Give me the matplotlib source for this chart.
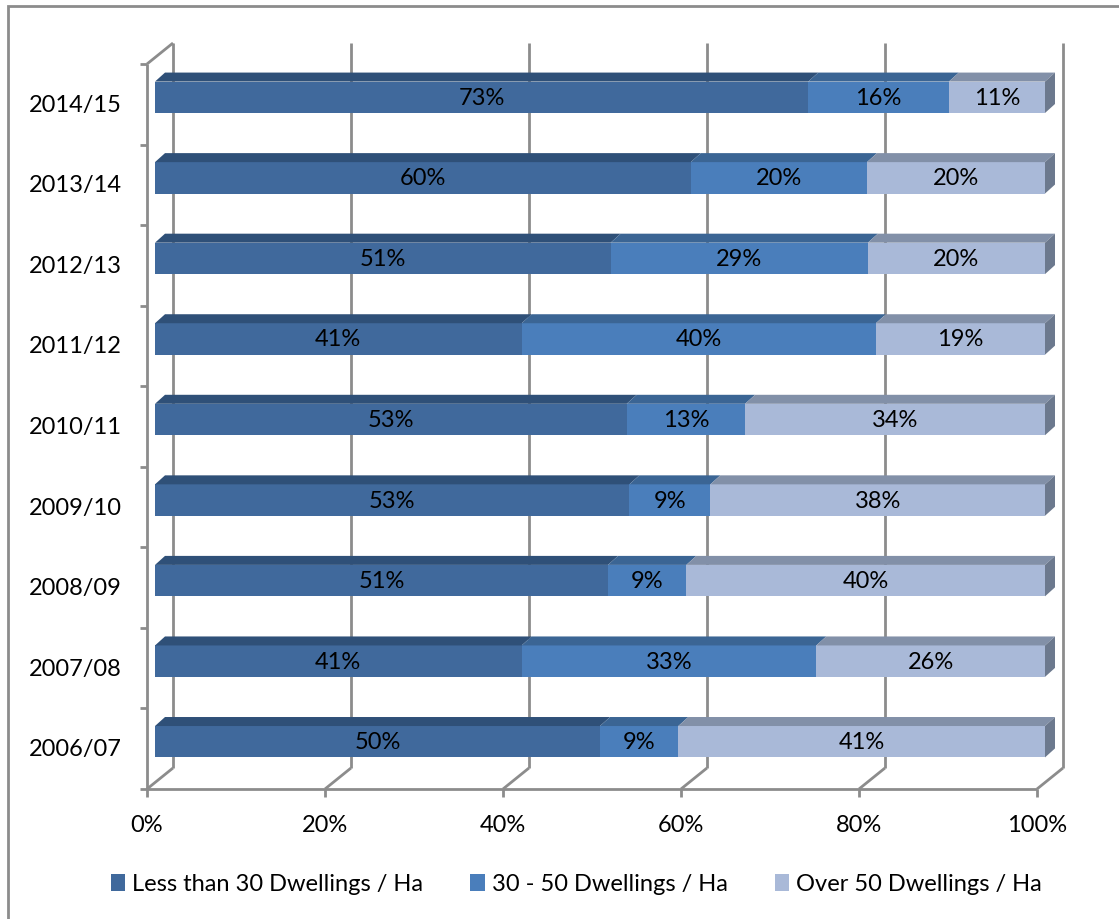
import matplotlib
matplotlib.use('Agg')
import matplotlib.pyplot as plt
from matplotlib.patches import Polygon, Rectangle, Patch

plt.rcParams['font.family'] = ['Lato', 'DejaVu Sans']

# Veriler
years = ['2006/07', '2007/08', '2008/09', '2009/10', '2010/11',
         '2011/12', '2012/13', '2013/14', '2014/15']
less_30 = [50.0, 41.2, 50.9, 53.3, 53.0, 41.2, 51.2, 60.2, 73.4]
mid_30_50 = [8.8, 33.1, 8.8, 9.1, 13.3, 39.8, 28.9, 19.8, 15.8]
over_50 = [41.2, 25.7, 40.3, 37.6, 33.7, 19.0, 19.9, 20.0, 10.8]
series_names = ['Less than 30 Dwellings / Ha', '30 - 50 Dwellings / Ha',
                'Over 50 Dwellings / Ha']
xticks = [0, 20, 40, 60, 80, 100]

front_cols = ['#40699C', '#4A7EBB', '#A9B9D8']
top_cols = ['#2F5078', '#3B6594', '#8290A8']
side_col = '#6C798E'
grid_col = '#8C8C8C'

fig = plt.figure(figsize=(11.19, 9.2), dpi=100)
W, H = 1119, 920
# eksen: bar on yuzu duzlemi (x: 155..1045 px, y: 783..58 px)
ax = fig.add_axes([155 / W, (H - 783) / H, 890 / W, 725 / H])
ax.set_xlim(0, 100)
ax.set_ylim(0, 9)
ax.axis('off')

px_x = 100 / 890.0
px_y = 9 / 725.0
# derinlik kaydirmalari (piksel -> veri)
bdx, bdy = 10 * px_x, 9 * px_y       # bar derinligi
wdx, wdy = 18 * px_x, 14 * px_y      # arka duvar
fdx, fdy = -8 * px_x, -7 * px_y      # on eksen duzlemi

def line(xs, ys, **kw):
    ax.plot(xs, ys, color=grid_col, lw=2, clip_on=False, solid_capstyle='butt', **kw)

# arka duvar cizgileri ve zemin
for v in xticks:
    line([v + wdx, v + wdx], [wdy, 9 + wdy], zorder=1)
    line([v + fdx, v + wdx], [fdy, wdy], zorder=1)
    line([v + fdx, v + fdx], [fdy, fdy - 8 * px_y], zorder=1)
    ax.text(v + fdx, fdy - 36 * px_y, f'{v}%', ha='center', va='center', fontsize=17)
# sol duvar
line([fdx, fdx], [fdy, 9 + fdy], zorder=1)
line([fdx, wdx], [9 + fdy, 9 + wdy], zorder=1)
line([fdx, 100 + fdx], [fdy, fdy], zorder=1)
for b in range(10):
    line([fdx - 7 * px_x, fdx], [b + fdy, b + fdy], zorder=1)

# barlar
h = 0.39
series = [less_30, mid_30_50, over_50]
for i, yr in enumerate(years):
    yc = i + 0.5
    ax.text(fdx - 25 * px_x, yc + fdy, yr, ha='right', va='center', fontsize=17)
    left = 0
    for s, vals in enumerate(series):
        v = vals[i]
        ax.barh(yc, v, left=left, height=h, color=front_cols[s], zorder=3)
        top = yc + h / 2
        ax.add_patch(Polygon([(left, top), (left + v, top),
                              (left + v + bdx, top + bdy), (left + bdx, top + bdy)],
                             closed=True, facecolor=top_cols[s], edgecolor='none',
                             zorder=3, clip_on=False))
        ax.text(left + v / 2, yc, f'{v:.0f}%', ha='center', va='center', fontsize=17, zorder=5)
        left += v
    ax.add_patch(Polygon([(left, yc - h / 2), (left, yc + h / 2),
                          (left + bdx, yc + h / 2 + bdy), (left + bdx, yc - h / 2 + bdy)],
                         closed=True, facecolor=side_col, edgecolor='none',
                         zorder=3, clip_on=False))

# lejant
handles = [Patch(facecolor=c, edgecolor='none') for c in front_cols]
fig.legend(handles, series_names, loc='center', bbox_to_anchor=(0.515, 1 - 885 / H),
           ncol=3, frameon=False, fontsize=17, handlelength=0.6, handleheight=0.7,
           handletextpad=0.3, columnspacing=2.0)

# grafik cercevesi
fig.add_artist(Rectangle((8 / W, -0.1), 1.2, 1 - 7 / H + 0.1, transform=fig.transFigure,
                         fill=False, edgecolor='#8C8C8C', lw=2))

fig.savefig('out.png', dpi=100)
